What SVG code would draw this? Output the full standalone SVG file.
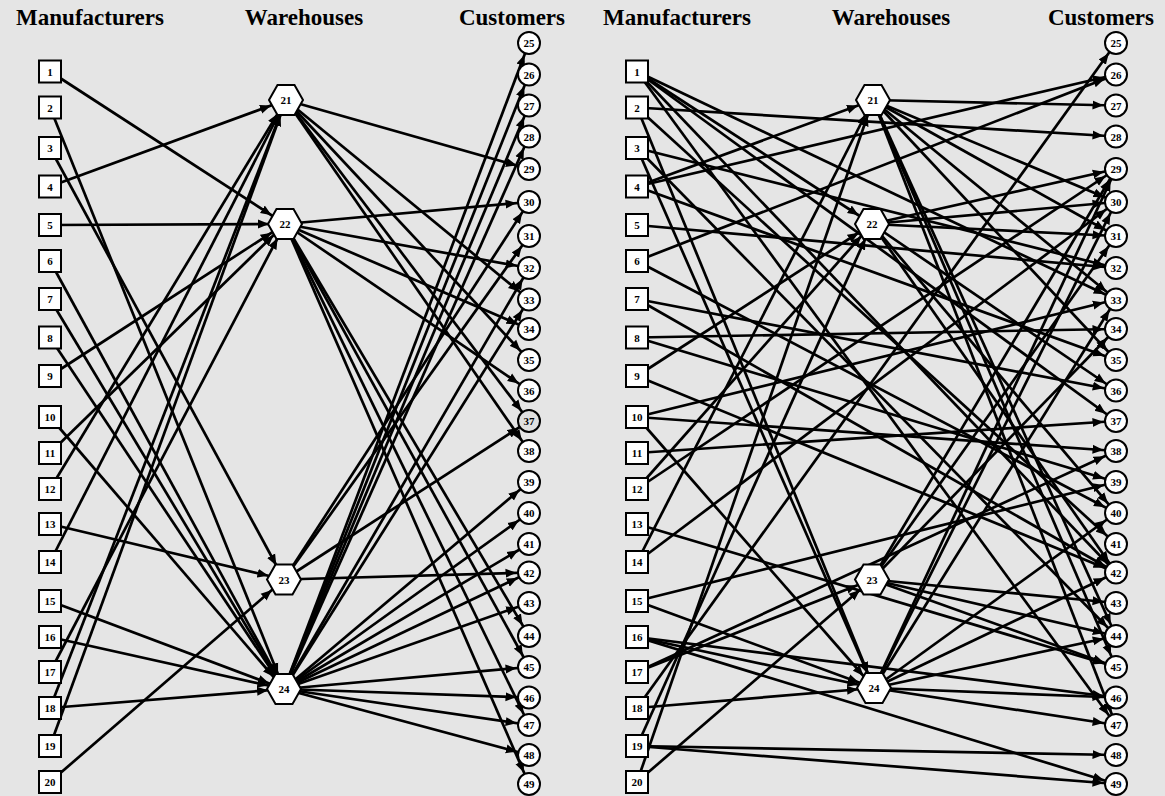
<svg xmlns="http://www.w3.org/2000/svg" xmlns:xlink="http://www.w3.org/1999/xlink" width="1165" height="796" viewBox="0 0 1165 796">
<style>
.t{font-family:"Liberation Serif","Times New Roman",serif;font-weight:bold;font-size:23px;text-anchor:middle;fill:#000}
.n{font-family:"Liberation Serif","Times New Roman",serif;font-weight:bold;font-size:11px;text-anchor:middle;fill:#000}
.b{fill:#fff;stroke:#000;stroke-width:2}
.e line{stroke:#000;stroke-width:2.7;fill:none}
.h{marker-end:url(#ah)}
.c{marker-end:url(#ac)}
</style>
<defs>
<marker id="ah" markerUnits="userSpaceOnUse" markerWidth="12" markerHeight="10" refX="27" refY="5" orient="auto"><path d="M0,0.5 L11,5 L0,9.5 z" fill="#000"/></marker>
<marker id="ac" markerUnits="userSpaceOnUse" markerWidth="12" markerHeight="10" refX="23.5" refY="5" orient="auto"><path d="M0,0.5 L11,5 L0,9.5 z" fill="#000"/></marker>
<polygon id="hex" points="-17,0 -8.5,-15 8.5,-15 17,0 8.5,15 -8.5,15"/>
</defs>
<rect width="1165" height="796" fill="#e5e5e5"/>
<g id="titles">
<text class="t" x="90" y="25">Manufacturers</text>
<text class="t" x="304" y="25">Warehouses</text>
<text class="t" x="512" y="25">Customers</text>
<text class="t" x="677" y="25">Manufacturers</text>
<text class="t" x="891" y="25">Warehouses</text>
<text class="t" x="1101" y="25">Customers</text>
</g>
<g id="connectors-left" class="e">
<line class="h" x1="50" y1="71.5" x2="285" y2="224"/>
<line class="h" x1="50" y1="107.5" x2="284" y2="689"/>
<line class="h" x1="50" y1="148" x2="284" y2="579.5"/>
<line class="h" x1="50" y1="186.5" x2="286" y2="100"/>
<line class="h" x1="50" y1="225" x2="285" y2="224"/>
<line class="h" x1="50" y1="261" x2="284" y2="689"/>
<line class="h" x1="50" y1="299" x2="284" y2="689"/>
<line class="h" x1="50" y1="337.5" x2="284" y2="689"/>
<line class="h" x1="50" y1="376" x2="285" y2="224"/>
<line class="h" x1="50" y1="417" x2="284" y2="689"/>
<line class="h" x1="50" y1="453" x2="285" y2="224"/>
<line class="h" x1="50" y1="489" x2="286" y2="100"/>
<line class="h" x1="50" y1="524" x2="284" y2="579.5"/>
<line class="h" x1="50" y1="562" x2="286" y2="100"/>
<line class="h" x1="50" y1="601" x2="284" y2="689"/>
<line class="h" x1="50" y1="637" x2="284" y2="689"/>
<line class="h" x1="50" y1="672" x2="285" y2="224"/>
<line class="h" x1="50" y1="708" x2="286" y2="100"/>
<line class="h" x1="50" y1="708" x2="284" y2="689"/>
<line class="h" x1="50" y1="746" x2="286" y2="100"/>
<line class="h" x1="50" y1="782" x2="284" y2="579.5"/>
<line class="c" x1="286" y1="100" x2="529" y2="169"/>
<line class="c" x1="286" y1="100" x2="529" y2="299.5"/>
<line class="c" x1="286" y1="100" x2="529" y2="360"/>
<line class="c" x1="286" y1="100" x2="529" y2="421"/>
<line class="c" x1="286" y1="100" x2="529" y2="451"/>
<line class="c" x1="285" y1="224" x2="529" y2="202"/>
<line class="c" x1="285" y1="224" x2="529" y2="268"/>
<line class="c" x1="285" y1="224" x2="529" y2="329"/>
<line class="c" x1="285" y1="224" x2="529" y2="390.5"/>
<line class="c" x1="285" y1="224" x2="529" y2="636"/>
<line class="c" x1="285" y1="224" x2="529" y2="667"/>
<line class="c" x1="285" y1="224" x2="529" y2="725"/>
<line class="c" x1="285" y1="224" x2="529" y2="784"/>
<line class="c" x1="284" y1="579.5" x2="529" y2="202"/>
<line class="c" x1="284" y1="579.5" x2="529" y2="236"/>
<line class="c" x1="284" y1="579.5" x2="529" y2="421"/>
<line class="c" x1="284" y1="579.5" x2="529" y2="572.5"/>
<line class="c" x1="284" y1="689" x2="529" y2="43"/>
<line class="c" x1="284" y1="689" x2="529" y2="74.5"/>
<line class="c" x1="284" y1="689" x2="529" y2="105.5"/>
<line class="c" x1="284" y1="689" x2="529" y2="136.5"/>
<line class="c" x1="284" y1="689" x2="529" y2="268"/>
<line class="c" x1="284" y1="689" x2="529" y2="299.5"/>
<line class="c" x1="284" y1="689" x2="529" y2="482"/>
<line class="c" x1="284" y1="689" x2="529" y2="513"/>
<line class="c" x1="284" y1="689" x2="529" y2="544"/>
<line class="c" x1="284" y1="689" x2="529" y2="572.5"/>
<line class="c" x1="284" y1="689" x2="529" y2="603"/>
<line class="c" x1="284" y1="689" x2="529" y2="667"/>
<line class="c" x1="284" y1="689" x2="529" y2="697.5"/>
<line class="c" x1="284" y1="689" x2="529" y2="725"/>
<line class="c" x1="284" y1="689" x2="529" y2="755"/>
</g>
<g id="connectors-right" class="e">
<line class="h" x1="637" y1="71.5" x2="872" y2="224"/>
<line class="h" x1="637" y1="107.5" x2="874" y2="688"/>
<line class="h" x1="637" y1="148" x2="874" y2="688"/>
<line class="h" x1="637" y1="186.5" x2="873" y2="100"/>
<line class="h" x1="637" y1="376" x2="872" y2="224"/>
<line class="h" x1="637" y1="417" x2="874" y2="688"/>
<line class="h" x1="637" y1="489" x2="872" y2="224"/>
<line class="h" x1="637" y1="562" x2="873" y2="100"/>
<line class="h" x1="637" y1="601" x2="874" y2="688"/>
<line class="h" x1="637" y1="637" x2="874" y2="688"/>
<line class="h" x1="637" y1="672" x2="872" y2="579.5"/>
<line class="h" x1="637" y1="708" x2="874" y2="688"/>
<line class="h" x1="637" y1="746" x2="872" y2="224"/>
<line class="h" x1="637" y1="782" x2="873" y2="100"/>
<line class="h" x1="637" y1="782" x2="872" y2="579.5"/>
<line class="c" x1="637" y1="71.5" x2="1116" y2="299.5"/>
<line class="c" x1="637" y1="71.5" x2="1116" y2="421"/>
<line class="c" x1="637" y1="71.5" x2="1116" y2="572.5"/>
<line class="c" x1="637" y1="71.5" x2="1116" y2="725"/>
<line class="c" x1="637" y1="107.5" x2="1116" y2="136.5"/>
<line class="c" x1="637" y1="107.5" x2="1116" y2="544"/>
<line class="c" x1="637" y1="148" x2="1116" y2="268"/>
<line class="c" x1="637" y1="148" x2="1116" y2="636"/>
<line class="c" x1="637" y1="186.5" x2="1116" y2="74.5"/>
<line class="c" x1="637" y1="186.5" x2="1116" y2="360"/>
<line class="c" x1="637" y1="225" x2="1116" y2="268"/>
<line class="c" x1="637" y1="261" x2="1116" y2="74.5"/>
<line class="c" x1="637" y1="261" x2="1116" y2="513"/>
<line class="c" x1="637" y1="299" x2="1116" y2="390.5"/>
<line class="c" x1="637" y1="299" x2="1116" y2="572.5"/>
<line class="c" x1="637" y1="337.5" x2="1116" y2="329"/>
<line class="c" x1="637" y1="337.5" x2="1116" y2="482"/>
<line class="c" x1="637" y1="376" x2="1116" y2="572.5"/>
<line class="c" x1="637" y1="417" x2="1116" y2="299.5"/>
<line class="c" x1="637" y1="417" x2="1116" y2="451"/>
<line class="c" x1="637" y1="453" x2="1116" y2="421"/>
<line class="c" x1="637" y1="489" x2="1116" y2="169"/>
<line class="c" x1="637" y1="524" x2="1116" y2="667"/>
<line class="c" x1="637" y1="562" x2="1116" y2="202"/>
<line class="c" x1="637" y1="601" x2="1116" y2="482"/>
<line class="c" x1="637" y1="637" x2="1116" y2="697.5"/>
<line class="c" x1="637" y1="637" x2="1116" y2="784"/>
<line class="c" x1="637" y1="672" x2="1116" y2="451"/>
<line class="c" x1="637" y1="708" x2="1116" y2="43"/>
<line class="c" x1="637" y1="746" x2="1116" y2="755"/>
<line class="c" x1="637" y1="746" x2="1116" y2="784"/>
<line class="c" x1="873" y1="100" x2="1116" y2="105.5"/>
<line class="c" x1="873" y1="100" x2="1116" y2="202"/>
<line class="c" x1="873" y1="100" x2="1116" y2="236"/>
<line class="c" x1="873" y1="100" x2="1116" y2="299.5"/>
<line class="c" x1="873" y1="100" x2="1116" y2="360"/>
<line class="c" x1="873" y1="100" x2="1116" y2="636"/>
<line class="c" x1="873" y1="100" x2="1116" y2="667"/>
<line class="c" x1="873" y1="100" x2="1116" y2="725"/>
<line class="c" x1="872" y1="224" x2="1116" y2="169"/>
<line class="c" x1="872" y1="224" x2="1116" y2="202"/>
<line class="c" x1="872" y1="224" x2="1116" y2="236"/>
<line class="c" x1="872" y1="224" x2="1116" y2="390.5"/>
<line class="c" x1="872" y1="224" x2="1116" y2="513"/>
<line class="c" x1="872" y1="224" x2="1116" y2="572.5"/>
<line class="c" x1="872" y1="579.5" x2="1116" y2="169"/>
<line class="c" x1="872" y1="579.5" x2="1116" y2="236"/>
<line class="c" x1="872" y1="579.5" x2="1116" y2="329"/>
<line class="c" x1="872" y1="579.5" x2="1116" y2="603"/>
<line class="c" x1="872" y1="579.5" x2="1116" y2="636"/>
<line class="c" x1="872" y1="579.5" x2="1116" y2="667"/>
<line class="c" x1="874" y1="688" x2="1116" y2="169"/>
<line class="c" x1="874" y1="688" x2="1116" y2="202"/>
<line class="c" x1="874" y1="688" x2="1116" y2="299.5"/>
<line class="c" x1="874" y1="688" x2="1116" y2="513"/>
<line class="c" x1="874" y1="688" x2="1116" y2="572.5"/>
<line class="c" x1="874" y1="688" x2="1116" y2="636"/>
<line class="c" x1="874" y1="688" x2="1116" y2="697.5"/>
<line class="c" x1="874" y1="688" x2="1116" y2="725"/>
</g>
<g id="nodes-left">
<g id="L-m1"><rect class="b" x="39" y="60.5" width="22" height="22"/><text class="n" x="50" y="75.5">1</text></g>
<g id="L-m2"><rect class="b" x="39" y="96.5" width="22" height="22"/><text class="n" x="50" y="111.5">2</text></g>
<g id="L-m3"><rect class="b" x="39" y="137" width="22" height="22"/><text class="n" x="50" y="152">3</text></g>
<g id="L-m4"><rect class="b" x="39" y="175.5" width="22" height="22"/><text class="n" x="50" y="190.5">4</text></g>
<g id="L-m5"><rect class="b" x="39" y="214" width="22" height="22"/><text class="n" x="50" y="229">5</text></g>
<g id="L-m6"><rect class="b" x="39" y="250" width="22" height="22"/><text class="n" x="50" y="265">6</text></g>
<g id="L-m7"><rect class="b" x="39" y="288" width="22" height="22"/><text class="n" x="50" y="303">7</text></g>
<g id="L-m8"><rect class="b" x="39" y="326.5" width="22" height="22"/><text class="n" x="50" y="341.5">8</text></g>
<g id="L-m9"><rect class="b" x="39" y="365" width="22" height="22"/><text class="n" x="50" y="380">9</text></g>
<g id="L-m10"><rect class="b" x="39" y="406" width="22" height="22"/><text class="n" x="50" y="421">10</text></g>
<g id="L-m11"><rect class="b" x="39" y="442" width="22" height="22"/><text class="n" x="50" y="457">11</text></g>
<g id="L-m12"><rect class="b" x="39" y="478" width="22" height="22"/><text class="n" x="50" y="493">12</text></g>
<g id="L-m13"><rect class="b" x="39" y="513" width="22" height="22"/><text class="n" x="50" y="528">13</text></g>
<g id="L-m14"><rect class="b" x="39" y="551" width="22" height="22"/><text class="n" x="50" y="566">14</text></g>
<g id="L-m15"><rect class="b" x="39" y="590" width="22" height="22"/><text class="n" x="50" y="605">15</text></g>
<g id="L-m16"><rect class="b" x="39" y="626" width="22" height="22"/><text class="n" x="50" y="641">16</text></g>
<g id="L-m17"><rect class="b" x="39" y="661" width="22" height="22"/><text class="n" x="50" y="676">17</text></g>
<g id="L-m18"><rect class="b" x="39" y="697" width="22" height="22"/><text class="n" x="50" y="712">18</text></g>
<g id="L-m19"><rect class="b" x="39" y="735" width="22" height="22"/><text class="n" x="50" y="750">19</text></g>
<g id="L-m20"><rect class="b" x="39" y="771" width="22" height="22"/><text class="n" x="50" y="786">20</text></g>
<g id="L-w21"><use xlink:href="#hex" class="b" x="286" y="100"/><text class="n" x="286" y="104">21</text></g>
<g id="L-w22"><use xlink:href="#hex" class="b" x="285" y="224"/><text class="n" x="285" y="228">22</text></g>
<g id="L-w23"><use xlink:href="#hex" class="b" x="284" y="579.5"/><text class="n" x="284" y="583.5">23</text></g>
<g id="L-w24"><use xlink:href="#hex" class="b" x="284" y="689"/><text class="n" x="284" y="693">24</text></g>
<g id="L-c25"><circle class="b" cx="529" cy="43" r="11"/><text class="n" x="529" y="47">25</text></g>
<g id="L-c26"><circle class="b" cx="529" cy="74.5" r="11"/><text class="n" x="529" y="78.5">26</text></g>
<g id="L-c27"><circle class="b" cx="529" cy="105.5" r="11"/><text class="n" x="529" y="109.5">27</text></g>
<g id="L-c28"><circle class="b" cx="529" cy="136.5" r="11"/><text class="n" x="529" y="140.5">28</text></g>
<g id="L-c29"><circle class="b" cx="529" cy="169" r="11"/><text class="n" x="529" y="173">29</text></g>
<g id="L-c30"><circle class="b" cx="529" cy="202" r="11"/><text class="n" x="529" y="206">30</text></g>
<g id="L-c31"><circle class="b" cx="529" cy="236" r="11"/><text class="n" x="529" y="240">31</text></g>
<g id="L-c32"><circle class="b" cx="529" cy="268" r="11"/><text class="n" x="529" y="272">32</text></g>
<g id="L-c33"><circle class="b" cx="529" cy="299.5" r="11"/><text class="n" x="529" y="303.5">33</text></g>
<g id="L-c34"><circle class="b" cx="529" cy="329" r="11"/><text class="n" x="529" y="333">34</text></g>
<g id="L-c35"><circle class="b" cx="529" cy="360" r="11"/><text class="n" x="529" y="364">35</text></g>
<g id="L-c36"><circle class="b" cx="529" cy="390.5" r="11"/><text class="n" x="529" y="394.5">36</text></g>
<g id="L-c37"><circle class="b" cx="529" cy="421" r="11" style="fill:#e0e0e0"/><text class="n" x="529" y="425">37</text></g>
<g id="L-c38"><circle class="b" cx="529" cy="451" r="11"/><text class="n" x="529" y="455">38</text></g>
<g id="L-c39"><circle class="b" cx="529" cy="482" r="11"/><text class="n" x="529" y="486">39</text></g>
<g id="L-c40"><circle class="b" cx="529" cy="513" r="11"/><text class="n" x="529" y="517">40</text></g>
<g id="L-c41"><circle class="b" cx="529" cy="544" r="11"/><text class="n" x="529" y="548">41</text></g>
<g id="L-c42"><circle class="b" cx="529" cy="572.5" r="11"/><text class="n" x="529" y="576.5">42</text></g>
<g id="L-c43"><circle class="b" cx="529" cy="603" r="11"/><text class="n" x="529" y="607">43</text></g>
<g id="L-c44"><circle class="b" cx="529" cy="636" r="11"/><text class="n" x="529" y="640">44</text></g>
<g id="L-c45"><circle class="b" cx="529" cy="667" r="11"/><text class="n" x="529" y="671">45</text></g>
<g id="L-c46"><circle class="b" cx="529" cy="697.5" r="11"/><text class="n" x="529" y="701.5">46</text></g>
<g id="L-c47"><circle class="b" cx="529" cy="725" r="11"/><text class="n" x="529" y="729">47</text></g>
<g id="L-c48"><circle class="b" cx="529" cy="755" r="11"/><text class="n" x="529" y="759">48</text></g>
<g id="L-c49"><circle class="b" cx="529" cy="784" r="11"/><text class="n" x="529" y="788">49</text></g>
</g>
<g id="nodes-right">
<g id="R-m1"><rect class="b" x="626" y="60.5" width="22" height="22"/><text class="n" x="637" y="75.5">1</text></g>
<g id="R-m2"><rect class="b" x="626" y="96.5" width="22" height="22"/><text class="n" x="637" y="111.5">2</text></g>
<g id="R-m3"><rect class="b" x="626" y="137" width="22" height="22"/><text class="n" x="637" y="152">3</text></g>
<g id="R-m4"><rect class="b" x="626" y="175.5" width="22" height="22"/><text class="n" x="637" y="190.5">4</text></g>
<g id="R-m5"><rect class="b" x="626" y="214" width="22" height="22"/><text class="n" x="637" y="229">5</text></g>
<g id="R-m6"><rect class="b" x="626" y="250" width="22" height="22"/><text class="n" x="637" y="265">6</text></g>
<g id="R-m7"><rect class="b" x="626" y="288" width="22" height="22"/><text class="n" x="637" y="303">7</text></g>
<g id="R-m8"><rect class="b" x="626" y="326.5" width="22" height="22"/><text class="n" x="637" y="341.5">8</text></g>
<g id="R-m9"><rect class="b" x="626" y="365" width="22" height="22"/><text class="n" x="637" y="380">9</text></g>
<g id="R-m10"><rect class="b" x="626" y="406" width="22" height="22"/><text class="n" x="637" y="421">10</text></g>
<g id="R-m11"><rect class="b" x="626" y="442" width="22" height="22"/><text class="n" x="637" y="457">11</text></g>
<g id="R-m12"><rect class="b" x="626" y="478" width="22" height="22"/><text class="n" x="637" y="493">12</text></g>
<g id="R-m13"><rect class="b" x="626" y="513" width="22" height="22"/><text class="n" x="637" y="528">13</text></g>
<g id="R-m14"><rect class="b" x="626" y="551" width="22" height="22"/><text class="n" x="637" y="566">14</text></g>
<g id="R-m15"><rect class="b" x="626" y="590" width="22" height="22"/><text class="n" x="637" y="605">15</text></g>
<g id="R-m16"><rect class="b" x="626" y="626" width="22" height="22"/><text class="n" x="637" y="641">16</text></g>
<g id="R-m17"><rect class="b" x="626" y="661" width="22" height="22"/><text class="n" x="637" y="676">17</text></g>
<g id="R-m18"><rect class="b" x="626" y="697" width="22" height="22"/><text class="n" x="637" y="712">18</text></g>
<g id="R-m19"><rect class="b" x="626" y="735" width="22" height="22"/><text class="n" x="637" y="750">19</text></g>
<g id="R-m20"><rect class="b" x="626" y="771" width="22" height="22"/><text class="n" x="637" y="786">20</text></g>
<g id="R-w21"><use xlink:href="#hex" class="b" x="873" y="100"/><text class="n" x="873" y="104">21</text></g>
<g id="R-w22"><use xlink:href="#hex" class="b" x="872" y="224"/><text class="n" x="872" y="228">22</text></g>
<g id="R-w23"><use xlink:href="#hex" class="b" x="872" y="579.5"/><text class="n" x="872" y="583.5">23</text></g>
<g id="R-w24"><use xlink:href="#hex" class="b" x="874" y="688"/><text class="n" x="874" y="692">24</text></g>
<g id="R-c25"><circle class="b" cx="1116" cy="43" r="11"/><text class="n" x="1116" y="47">25</text></g>
<g id="R-c26"><circle class="b" cx="1116" cy="74.5" r="11"/><text class="n" x="1116" y="78.5">26</text></g>
<g id="R-c27"><circle class="b" cx="1116" cy="105.5" r="11"/><text class="n" x="1116" y="109.5">27</text></g>
<g id="R-c28"><circle class="b" cx="1116" cy="136.5" r="11"/><text class="n" x="1116" y="140.5">28</text></g>
<g id="R-c29"><circle class="b" cx="1116" cy="169" r="11"/><text class="n" x="1116" y="173">29</text></g>
<g id="R-c30"><circle class="b" cx="1116" cy="202" r="11"/><text class="n" x="1116" y="206">30</text></g>
<g id="R-c31"><circle class="b" cx="1116" cy="236" r="11"/><text class="n" x="1116" y="240">31</text></g>
<g id="R-c32"><circle class="b" cx="1116" cy="268" r="11"/><text class="n" x="1116" y="272">32</text></g>
<g id="R-c33"><circle class="b" cx="1116" cy="299.5" r="11"/><text class="n" x="1116" y="303.5">33</text></g>
<g id="R-c34"><circle class="b" cx="1116" cy="329" r="11"/><text class="n" x="1116" y="333">34</text></g>
<g id="R-c35"><circle class="b" cx="1116" cy="360" r="11"/><text class="n" x="1116" y="364">35</text></g>
<g id="R-c36"><circle class="b" cx="1116" cy="390.5" r="11"/><text class="n" x="1116" y="394.5">36</text></g>
<g id="R-c37"><circle class="b" cx="1116" cy="421" r="11"/><text class="n" x="1116" y="425">37</text></g>
<g id="R-c38"><circle class="b" cx="1116" cy="451" r="11"/><text class="n" x="1116" y="455">38</text></g>
<g id="R-c39"><circle class="b" cx="1116" cy="482" r="11"/><text class="n" x="1116" y="486">39</text></g>
<g id="R-c40"><circle class="b" cx="1116" cy="513" r="11"/><text class="n" x="1116" y="517">40</text></g>
<g id="R-c41"><circle class="b" cx="1116" cy="544" r="11"/><text class="n" x="1116" y="548">41</text></g>
<g id="R-c42"><circle class="b" cx="1116" cy="572.5" r="11"/><text class="n" x="1116" y="576.5">42</text></g>
<g id="R-c43"><circle class="b" cx="1116" cy="603" r="11"/><text class="n" x="1116" y="607">43</text></g>
<g id="R-c44"><circle class="b" cx="1116" cy="636" r="11"/><text class="n" x="1116" y="640">44</text></g>
<g id="R-c45"><circle class="b" cx="1116" cy="667" r="11"/><text class="n" x="1116" y="671">45</text></g>
<g id="R-c46"><circle class="b" cx="1116" cy="697.5" r="11"/><text class="n" x="1116" y="701.5">46</text></g>
<g id="R-c47"><circle class="b" cx="1116" cy="725" r="11"/><text class="n" x="1116" y="729">47</text></g>
<g id="R-c48"><circle class="b" cx="1116" cy="755" r="11"/><text class="n" x="1116" y="759">48</text></g>
<g id="R-c49"><circle class="b" cx="1116" cy="784" r="11"/><text class="n" x="1116" y="788">49</text></g>
</g>
</svg>
